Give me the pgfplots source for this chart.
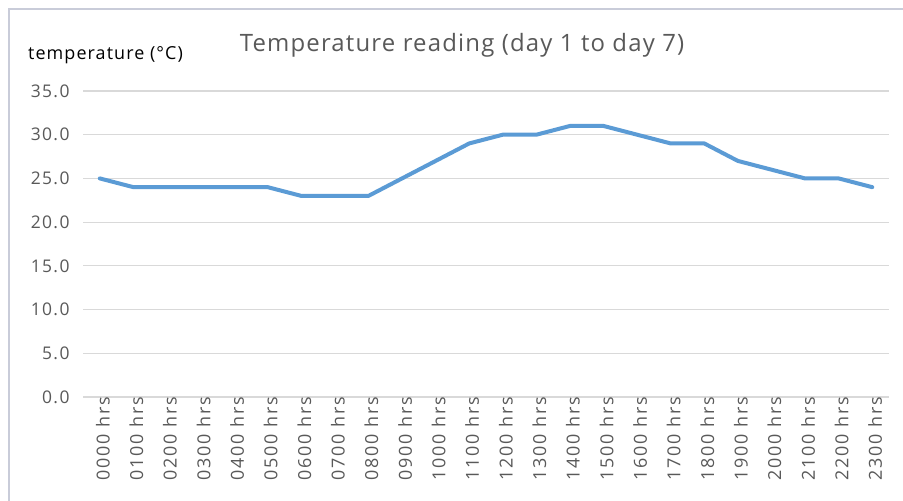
\documentclass[border=0pt]{standalone}
\usepackage{fontspec}
\setmainfont{Open Sans}
\newfontfamily\xtf[LetterSpace=10]{Open Sans}
\newfontfamily\ytf[LetterSpace=8]{Open Sans}
\newfontfamily\ttf[LetterSpace=5]{Open Sans}
\newfontfamily\ltf[LetterSpace=6]{Open Sans}
\usepackage{pgfplots}
\pgfplotsset{compat=1.18}
\definecolor{serie}{HTML}{5B9BD5}
\definecolor{gridc}{HTML}{D9D9D9}
\definecolor{txt}{HTML}{595959}
\definecolor{bord}{HTML}{C9CCD9}
\begin{document}
\begin{tikzpicture}[x=1bp,y=1bp]
\useasboundingbox (0,0) rectangle (903,501);
\fill[white] (0,0) rectangle (903,501);
\draw[bord, line width=2.5bp] (9,0) -- (9,492) -- (903,492);
\begin{axis}[
  at={(83bp,104bp)}, anchor=south west,
  scale only axis, width=806bp, height=306bp,
  xmin=-0.5, xmax=23.5, ymin=0, ymax=35,
  ytick={0,5,...,35},
  xtick={0,...,23},
  xticklabels={0000 hrs,0100 hrs,0200 hrs,0300 hrs,0400 hrs,0500 hrs,0600 hrs,0700 hrs,0800 hrs,0900 hrs,1000 hrs,1100 hrs,1200 hrs,1300 hrs,1400 hrs,1500 hrs,1600 hrs,1700 hrs,1800 hrs,1900 hrs,2000 hrs,2100 hrs,2200 hrs,2300 hrs},
  xticklabel style={rotate=90, anchor=east, font=\xtf\fontsize{18}{20}\selectfont, text=txt, inner sep=0pt, yshift=-3bp},
  yticklabel style={font=\ytf\fontsize{17.5}{19}\selectfont, text=txt, /pgf/number format/.cd, fixed, fixed zerofill, precision=1, assume math mode=true},
  /pgf/number format/assume math mode=true,
  yticklabel shift=10bp,
  major tick length=0pt,
  axis line style={draw=none},
  ymajorgrids, grid style={gridc, line width=1.2bp},
]
\addplot[serie, line width=4bp, line join=round, line cap=round, mark=none] coordinates {
(0,25) (1,24) (2,24) (3,24) (4,24) (5,24) (6,23) (7,23) (8,23) (9,25) (10,27) (11,29)
(12,30) (13,30) (14,31) (15,31) (16,30) (17,29) (18,29) (19,27) (20,26) (21,25) (22,25) (23,24)
};
\end{axis}
\node[text=txt, font=\ttf\fontsize{24}{27}\selectfont] at (462,456) {Temperature reading (day 1 to day 7)};
\node[anchor=west, text=black, font=\ltf\fontsize{18}{20}\selectfont, inner sep=0pt] at (28,446) {temperature (°C)};
\end{tikzpicture}
\end{document}
